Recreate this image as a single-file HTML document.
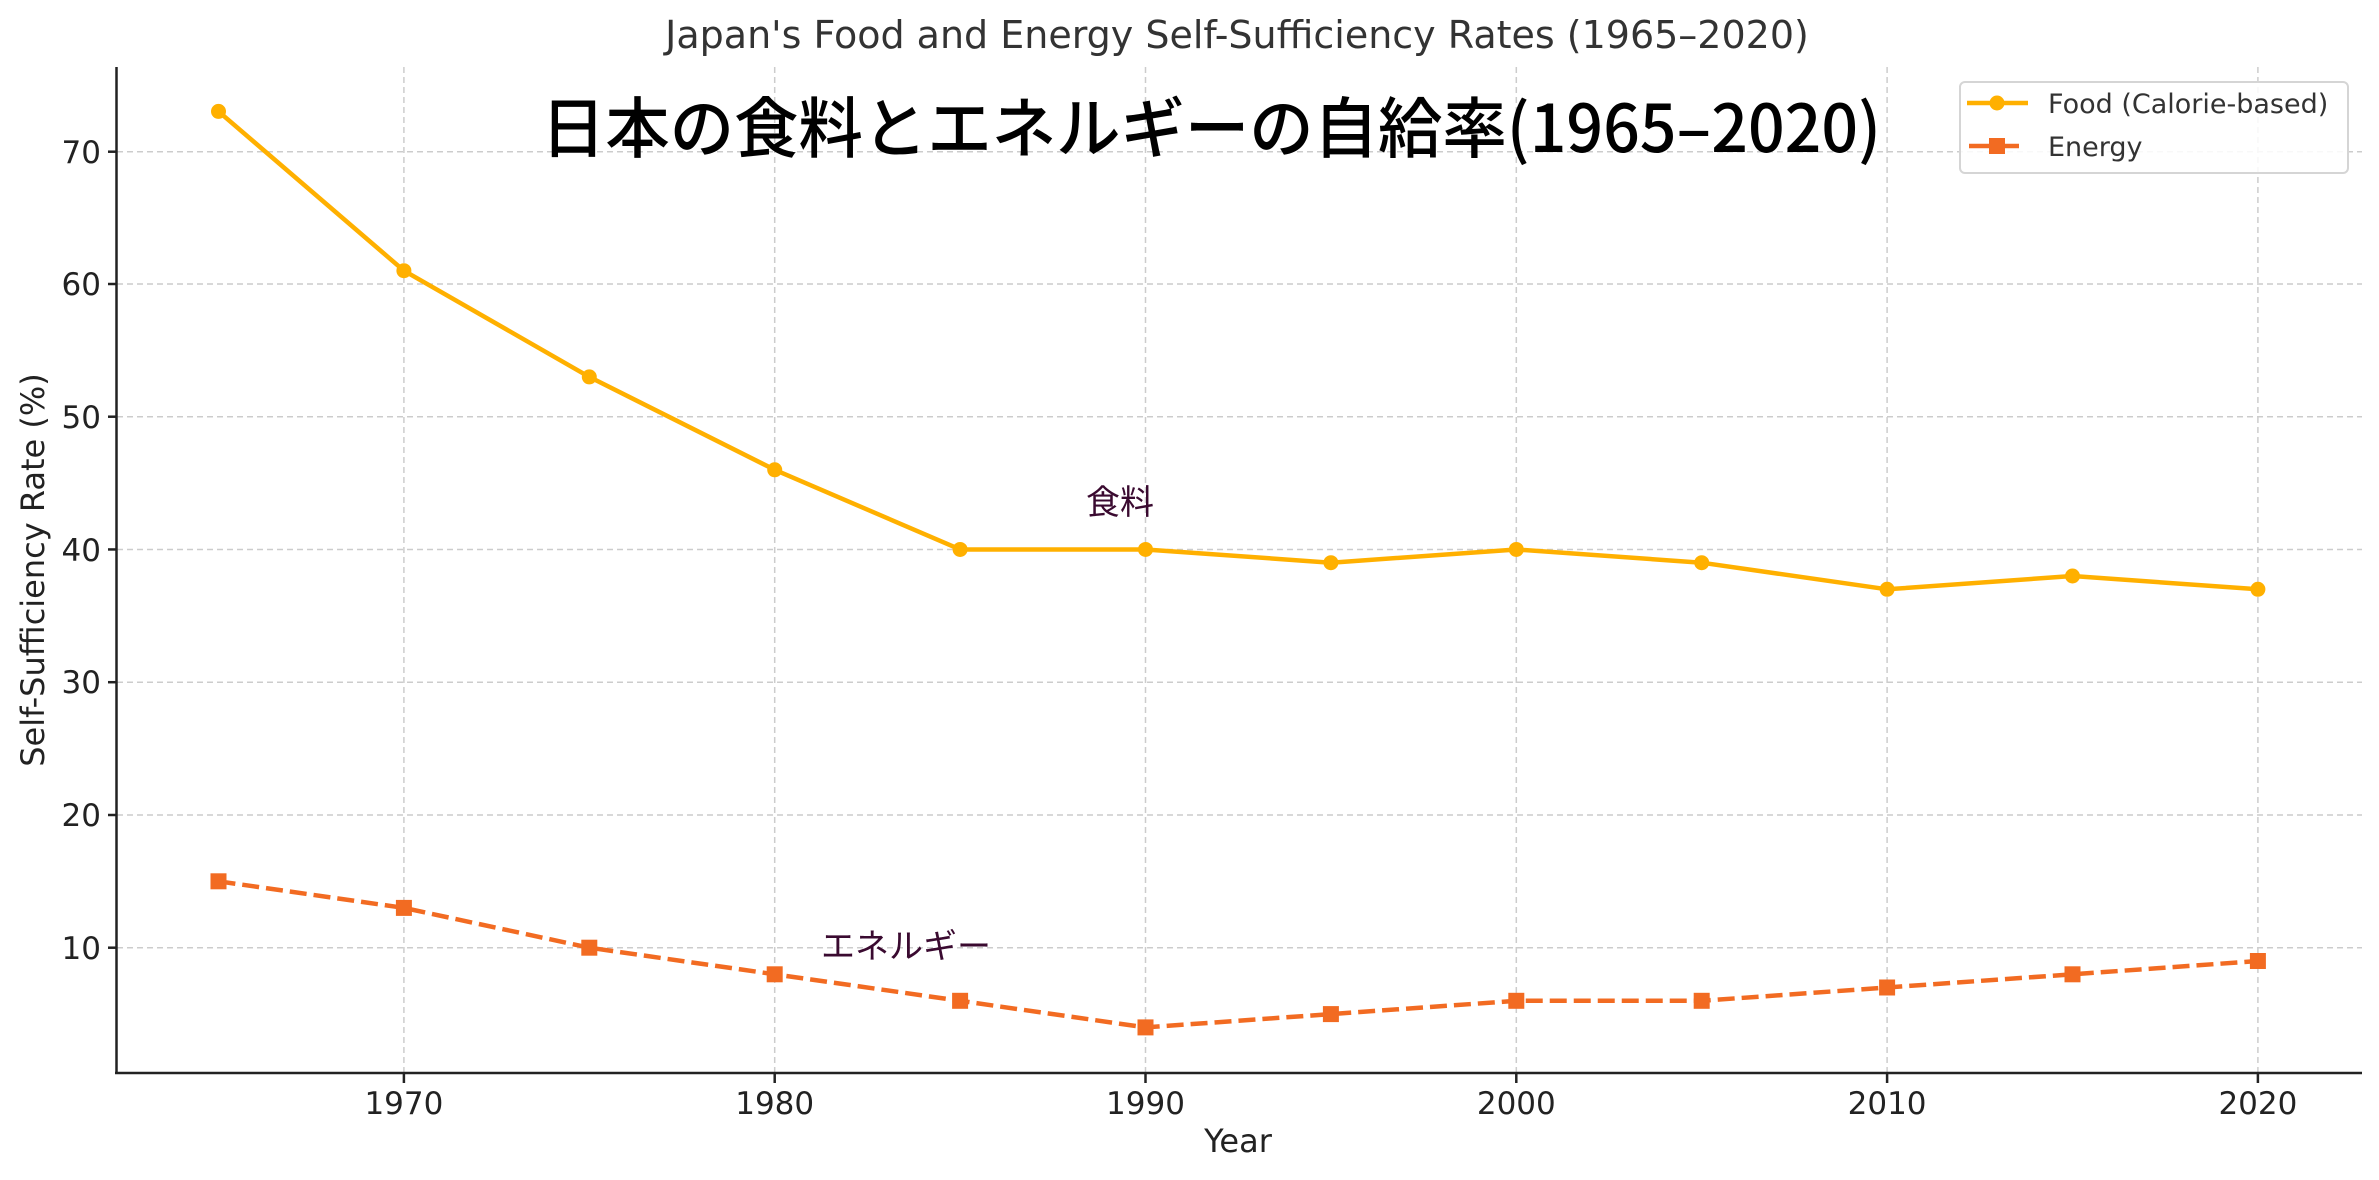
<!DOCTYPE html>
<html><head><meta charset="utf-8"><style>body{margin:0;background:#fff}svg{display:block}</style></head><body>
<svg width="2379" height="1180" xmlns="http://www.w3.org/2000/svg" font-family="'DejaVu Sans','Liberation Sans',sans-serif">
<rect width="2379" height="1180" fill="#fff"/>
<g stroke="#cccccc" stroke-width="1.5" stroke-dasharray="6,4">
<line x1="117" x2="2362" y1="815" y2="815"/><line x1="117" x2="2362" y1="682.2" y2="682.2"/><line x1="117" x2="2362" y1="549.45" y2="549.45"/><line x1="117" x2="2362" y1="416.7" y2="416.7"/><line x1="117" x2="2362" y1="284" y2="284"/><line x1="117" x2="2362" y1="151.7" y2="151.7"/><line x1="117" x2="2362" y1="947.7" y2="947.7"/>
<line y1="67" y2="1073" x1="403.9" x2="403.9"/><line y1="67" y2="1073" x1="774.7" x2="774.7"/><line y1="67" y2="1073" x1="1145.5" x2="1145.5"/><line y1="67" y2="1073" x1="1516.3" x2="1516.3"/><line y1="67" y2="1073" x1="1887.1" x2="1887.1"/><line y1="67" y2="1073" x1="2257.9" x2="2257.9"/>
</g>
<g stroke="#222" stroke-width="2.5">
<line x1="116.5" y1="67" x2="116.5" y2="1074"/><line x1="115" y1="1073" x2="2362" y2="1073"/>
<line x1="108" x2="116" y1="947.7" y2="947.7"/><line x1="108" x2="116" y1="815" y2="815"/><line x1="108" x2="116" y1="682.2" y2="682.2"/><line x1="108" x2="116" y1="549.45" y2="549.45"/><line x1="108" x2="116" y1="416.7" y2="416.7"/><line x1="108" x2="116" y1="284" y2="284"/><line x1="108" x2="116" y1="151.7" y2="151.7"/>
<line y1="1073" y2="1083" x1="403.9" x2="403.9"/><line y1="1073" y2="1083" x1="774.7" x2="774.7"/><line y1="1073" y2="1083" x1="1145.5" x2="1145.5"/><line y1="1073" y2="1083" x1="1516.3" x2="1516.3"/><line y1="1073" y2="1083" x1="1887.1" x2="1887.1"/><line y1="1073" y2="1083" x1="2257.9" x2="2257.9"/>
</g>
<g font-size="31" fill="#222" text-anchor="end">
<text x="101" y="959">10</text><text x="101" y="826">20</text><text x="101" y="693">30</text><text x="101" y="561">40</text><text x="101" y="428">50</text><text x="101" y="295">60</text><text x="101" y="163">70</text>
</g>
<g font-size="31" fill="#222" text-anchor="middle">
<text x="403.9" y="1114">1970</text><text x="774.7" y="1114">1980</text><text x="1145.5" y="1114">1990</text><text x="1516.3" y="1114">2000</text><text x="1887.1" y="1114">2010</text><text x="2257.9" y="1114">2020</text>
<text x="1238" y="1152" font-size="32">Year</text>
<text x="1237" y="48" font-size="38" fill="#333">Japan's Food and Energy Self-Sufficiency Rates (1965–2020)</text>
<text transform="translate(44,570) rotate(-90)" font-size="32">Self-Sufficiency Rate (%)</text>
</g>
<polyline fill="none" stroke="#FFB000" stroke-width="4.5" stroke-linejoin="round" points="218.5,111.4 403.9,270.7 589.3,376.9 774.7,469.8 960.1,549.45 1145.5,549.45 1330.9,562.7 1516.3,549.45 1701.7,562.7 1887.1,589.3 2072.5,576 2257.9,589.3"/>
<g fill="#FFB000">
<circle cx="218.5" cy="111.4" r="7.5"/><circle cx="403.9" cy="270.7" r="7.5"/><circle cx="589.3" cy="376.9" r="7.5"/><circle cx="774.7" cy="469.8" r="7.5"/><circle cx="960.1" cy="549.45" r="7.5"/><circle cx="1145.5" cy="549.45" r="7.5"/><circle cx="1330.9" cy="562.7" r="7.5"/><circle cx="1516.3" cy="549.45" r="7.5"/><circle cx="1701.7" cy="562.7" r="7.5"/><circle cx="1887.1" cy="589.3" r="7.5"/><circle cx="2072.5" cy="576" r="7.5"/><circle cx="2257.9" cy="589.3" r="7.5"/>
</g>
<polyline fill="none" stroke="#F26B22" stroke-width="4.5" stroke-dasharray="17,7" points="218.5,881.3 403.9,907.9 589.3,947.7 774.7,974.3 960.1,1000.8 1145.5,1027.4 1330.9,1014.1 1516.3,1000.8 1701.7,1000.8 1887.1,987.5 2072.5,974.3 2257.9,961"/>
<g fill="#F26B22">
<rect x="210.5" y="873.3" width="16" height="16"/><rect x="395.9" y="899.9" width="16" height="16"/><rect x="581.3" y="939.7" width="16" height="16"/><rect x="766.7" y="966.3" width="16" height="16"/><rect x="952.1" y="992.8" width="16" height="16"/><rect x="1137.5" y="1019.4" width="16" height="16"/><rect x="1322.9" y="1006.1" width="16" height="16"/><rect x="1508.3" y="992.8" width="16" height="16"/><rect x="1693.7" y="992.8" width="16" height="16"/><rect x="1879.1" y="979.5" width="16" height="16"/><rect x="2064.5" y="966.3" width="16" height="16"/><rect x="2249.9" y="953" width="16" height="16"/>
</g>
<text x="1211" y="152" font-size="66" font-weight="500" text-anchor="middle" fill="#000" font-family="'Noto Sans CJK JP',sans-serif" textLength="1340" lengthAdjust="spacingAndGlyphs">日本の食料とエネルギーの自給率(1965–2020)</text>
<text x="1120" y="514" font-size="34" text-anchor="middle" fill="#3a0a30" font-family="'Liberation Sans','Noto Sans CJK JP',sans-serif">食料</text>
<text x="906" y="958" font-size="34" text-anchor="middle" fill="#3a0a30" font-family="'Liberation Sans','Noto Sans CJK JP',sans-serif">エネルギー</text>
<rect x="1960" y="82" width="388" height="91" rx="5" fill="#fff" fill-opacity="0.85" stroke="#d5d5d5" stroke-width="2"/>
<line x1="1967" x2="2028" y1="103" y2="103" stroke="#FFB000" stroke-width="4.5"/><circle cx="1997" cy="103" r="7.5" fill="#FFB000"/>
<line x1="1969" x2="2019" y1="146" y2="146" stroke="#F26B22" stroke-width="4.5"/><rect x="1989" y="138" width="16" height="16" fill="#F26B22"/>
<g font-size="27" fill="#333"><text x="2048" y="113">Food (Calorie-based)</text><text x="2048" y="156">Energy</text></g>
</svg>
</body></html>
